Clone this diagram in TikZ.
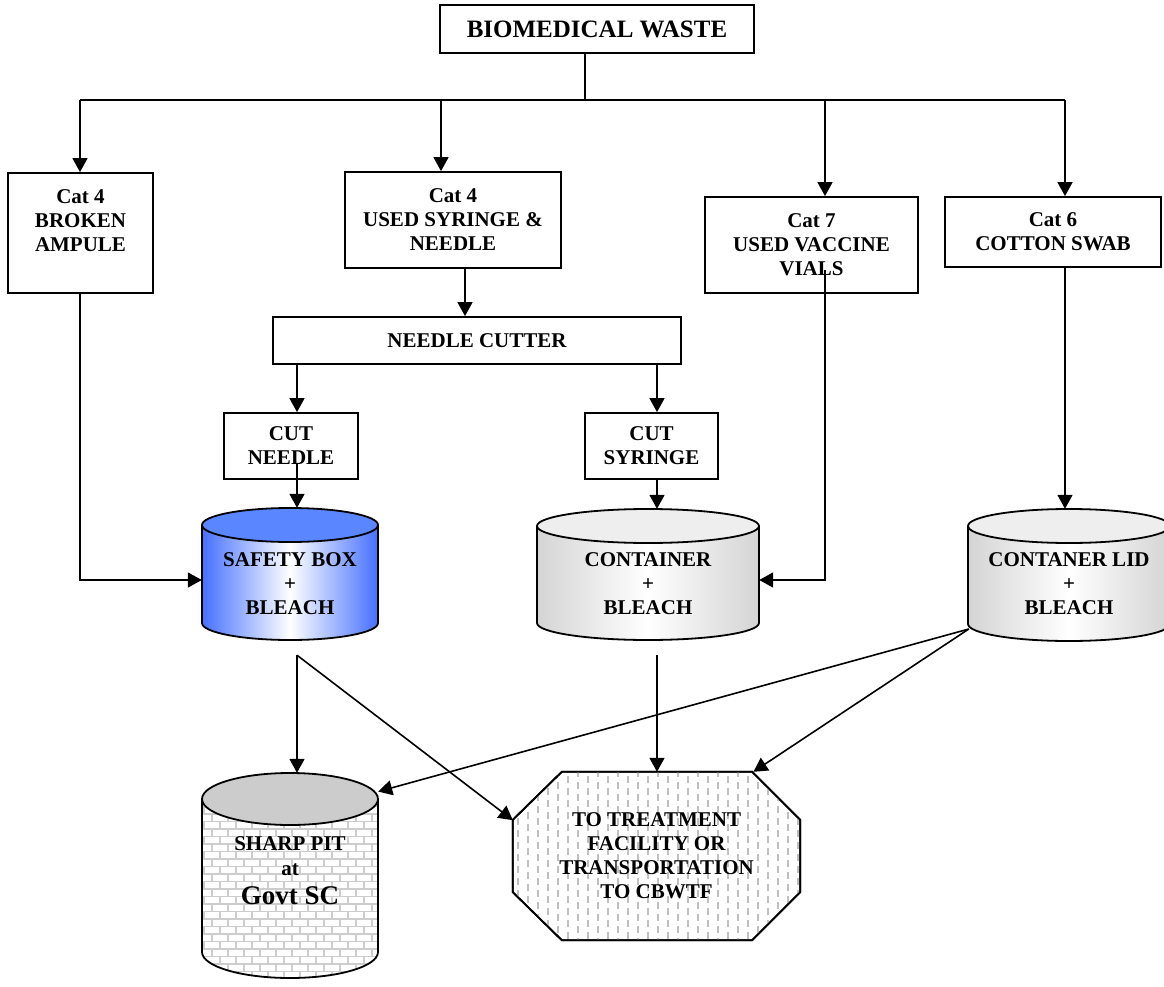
\documentclass[tikz,border=0pt]{standalone}
\usepackage{fontspec}
\setmainfont{Liberation Serif}
\usetikzlibrary{calc,arrows.meta,backgrounds}

\definecolor{boxBlue}{RGB}{70,112,255}
\definecolor{lidBlue}{RGB}{90,135,255}
\definecolor{tankGray}{RGB}{212,212,212}
\definecolor{lidGray}{RGB}{238,238,238}
\definecolor{pitGray}{RGB}{204,204,204}
\definecolor{mortar}{RGB}{205,205,205}
\definecolor{dashGray}{RGB}{192,192,192}

% cylinder: centre x, top-end y, bottom-end y, x radius, y radius, side colour, lid colour
\newcommand{\drawtank}[7]{%
  \shade[left color=#6, right color=#6, middle color=white]
    ({#1-#4},#2) -- ({#1-#4},#3) arc[start angle=180, end angle=0, x radius=#4, y radius=#5]
    -- ({#1+#4},#2) -- cycle;
  \filldraw[fill=#7, line width=1.8pt] (#1,#2) ellipse (#4 and #5);
  \draw[line width=1.8pt] ({#1-#4},#2) -- ({#1-#4},#3)
    arc[start angle=180, end angle=0, x radius=#4, y radius=#5] -- ({#1+#4},#2);
}

\begin{document}
\begin{tikzpicture}[x=1pt,y=-1pt,
    box/.style={draw, line width=1.8pt, align=center, inner sep=0pt,
        font=\bfseries\fontsize{21}{24}\selectfont},
    tanktext/.style={align=center, inner sep=0pt, font=\bfseries\fontsize{21}{24}\selectfont},
    link/.style={line width=1.6pt},
    arr/.style={link, -{Triangle[width=15pt,length=14pt]}},
  ]
  \useasboundingbox (0,0) rectangle (1164,987);

  % columns used by the connectors
  \coordinate (bus) at (585,100);
  \coordinate (cA) at (80,0);
  \coordinate (cS) at (441,0);
  \coordinate (cS2) at (465,0);
  \coordinate (cN) at (297,0);
  \coordinate (cY) at (657,0);
  \coordinate (cV) at (825,0);
  \coordinate (cW) at (1065,0);

  % waste and categories
  \node[box, font=\bfseries\fontsize{25}{28}\selectfont, minimum width=314pt, minimum height=48pt]
      (waste) at (597,29) {BIOMEDICAL WASTE};
  \node[box, minimum width=145pt, minimum height=120pt] (ampule) at (80.5,233) {Cat 4\\BROKEN\\AMPULE\\~};
  \node[box, minimum width=216pt, minimum height=96pt] (syringe) at (453,220) {Cat 4\\USED SYRINGE \&\\NEEDLE};
  \node[box, minimum width=213pt, minimum height=96pt] (vials) at (811.5,245) {Cat 7\\USED VACCINE\\VIALS};
  \node[box, minimum width=216pt, minimum height=70pt] (swab) at (1053,232) {Cat 6\\COTTON SWAB};

  \node[box, minimum width=408pt, minimum height=47pt] (cutter) at (477,340.5) {NEEDLE CUTTER};
  \node[box, minimum width=134pt, minimum height=66pt] (cutneedle) at (291,446) {CUT\\NEEDLE};
  \node[box, minimum width=133pt, minimum height=66pt] (cutsyringe) at (651.5,446) {CUT\\SYRINGE};

  % containers
  \drawtank{290}{525}{623}{88}{17}{boxBlue}{lidBlue}
  \drawtank{648}{526}{623}{111}{17}{tankGray}{lidGray}
  \drawtank{1069}{526}{624}{101}{17}{tankGray}{lidGray}
  \node[tanktext, minimum width=176pt, minimum height=152pt] (safety) at (290,584) {SAFETY BOX\\+\\BLEACH};
  \node[tanktext, minimum width=222pt, minimum height=150pt] (container) at (648,584) {CONTAINER\\+\\BLEACH};
  \node[tanktext, minimum width=202pt, minimum height=150pt] (lid) at (1069,584) {CONTANER LID\\+\\BLEACH};

  % sharp pit
  \begin{scope}
    \clip (202,799) -- (202,952) arc[start angle=180, end angle=0, x radius=88, y radius=26] -- (378,799) -- cycle;
    \fill[white] (190,790) rectangle (390,985);
    \foreach \r in {0,...,24} {
      \draw[mortar, line width=1.6pt] (190,{799+\r*7.5}) -- (390,{799+\r*7.5});
      \foreach \c in {0,...,12}
        \draw[mortar, line width=1.6pt] ({196+\c*16+mod(\r,2)*8},{799+\r*7.5}) -- ++(0,7.5);
    }
  \end{scope}
  \filldraw[fill=pitGray, line width=1.8pt] (290,799) ellipse (88 and 26);
  \draw[line width=1.8pt] (202,799) -- (202,952) arc[start angle=180, end angle=0, x radius=88, y radius=26] -- (378,799);
  \node[tanktext, minimum width=176pt, minimum height=196pt] (sharp) at (290,871)
      {SHARP PIT\\[1pt]at\\[5pt]{\fontsize{27}{30}\selectfont Govt SC}};

  % treatment facility
  \node[tanktext, minimum width=287pt, minimum height=168pt] (treat) at (656.5,856)
      {TO TREATMENT\\FACILITY OR\\TRANSPORTATION\\TO CBWTF};
  \begin{scope}[on background layer]
    \path[draw, line width=1.8pt, fill=white]
      ([xshift=49pt]treat.north west) -- ([xshift=-48pt]treat.north east)
      -- ([yshift=-48pt]treat.north east) -- ([yshift=48pt]treat.south east)
      -- ([xshift=-48pt]treat.south east) -- ([xshift=49pt]treat.south west)
      -- ([yshift=48pt]treat.south west) -- ([yshift=-48pt]treat.north west) -- cycle;
    \clip ([xshift=49pt]treat.north west) -- ([xshift=-48pt]treat.north east)
      -- ([yshift=-48pt]treat.north east) -- ([yshift=48pt]treat.south east)
      -- ([xshift=-48pt]treat.south east) -- ([xshift=49pt]treat.south west)
      -- ([yshift=48pt]treat.south west) -- ([yshift=-48pt]treat.north west) -- cycle;
    \foreach \i [evaluate=\i as \ph using {mod(\i,2)*6}] in {0,...,29}
      \draw[dashGray, line width=1.4pt, dash pattern=on 7pt off 5pt, dash phase=\ph pt]
        ({518+\i*10},770) -- ({518+\i*10},942);
  \end{scope}
  \draw[line width=1.8pt]
      ([xshift=49pt]treat.north west) -- ([xshift=-48pt]treat.north east)
      -- ([yshift=-48pt]treat.north east) -- ([yshift=48pt]treat.south east)
      -- ([xshift=-48pt]treat.south east) -- ([xshift=49pt]treat.south west)
      -- ([yshift=48pt]treat.south west) -- ([yshift=-48pt]treat.north west) -- cycle;

  % connectors
  \draw[link] (bus |- waste.south) -- (bus);
  \draw[link] (cA |- bus) -- (cW |- bus);
  \foreach \c/\b in {cA/ampule, cS/syringe, cV/vials, cW/swab}
    \draw[arr] (\c |- bus) -- (\c |- \b.north);
  \draw[arr] (cS2 |- syringe.south) -- (cS2 |- cutter.north);
  \draw[arr] (cN |- cutter.south) -- (cN |- cutneedle.north);
  \draw[arr] (cY |- cutter.south) -- (cY |- cutsyringe.north);
  \draw[arr] ($(cN |- cutneedle.center)+(0,17)$) -- (cN |- safety.north);
  \draw[arr] (cY |- cutsyringe.south) -- (cY |- container.north);
  \draw[arr] (cA |- ampule.south) |- ($(safety.west)+(0,-4)$);
  \draw[arr] ($(cV |- vials.center)+(0,25)$) |- ($(container.east)+(0,-4)$);
  \draw[arr] (cW |- swab.south) -- (cW |- lid.north);

  \coordinate (sout) at ($(cN |- safety.south)+(0,-5)$);
  \coordinate (cout) at ($(cY |- container.south)+(0,-4)$);
  \coordinate (lout) at ($(lid.west)+(1,45)$);
  \draw[arr] (sout) -- (cN |- sharp.north);
  \draw[arr] (sout) -- (treat.166);
  \draw[arr] (cout) -- (cY |- treat.north);
  \draw[arr] (lout) -- (sharp.42);
  \draw[arr] (lout) -- (treat.41);
\end{tikzpicture}
\end{document}
